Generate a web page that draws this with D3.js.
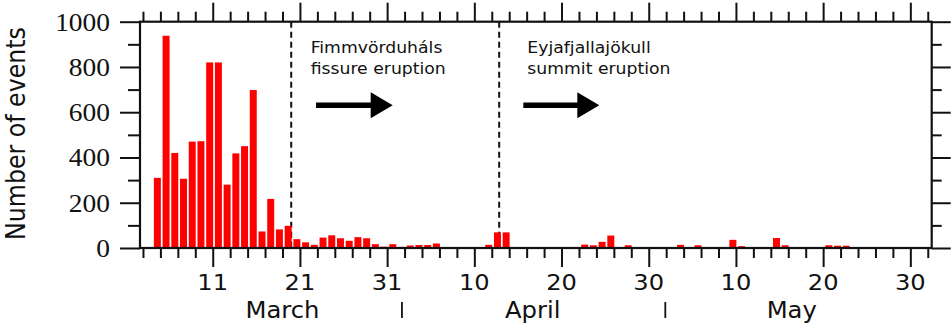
<!DOCTYPE html>
<html>
<head>
<meta charset="utf-8">
<script src="https://cdn.jsdelivr.net/npm/d3@7"></script>
<style>
  body { margin: 0; background: #fff; }
  svg { display: block; }
</style>
</head>
<body>
<svg id="chart" width="951" height="324"></svg>
<script>
// Daily number of located earthquakes, March–May 2010.
// Days are counted from 1 March 2010 (day 0); the first count is for day 3.
const firstDay = 3;
const dailyCounts = [
  310, 938, 420, 306, 470, 472, 820, 820, 280, 418, 450, 698, 73, 217, 82, 98,
  39, 25, 14, 46, 56, 43, 32, 48, 43, 17, 6, 17, 5, 11, 13, 13, 20, 3, 3, 2, 0, 1, 14, 69, 69,
  0, 0, 0, 0, 0, 0, 0, 1, 15, 12, 27, 55, 3, 12, 2, 0, 1, 2, 3, 14, 3, 12, 3, 2, 2,
  36, 8, 2, 1, 2, 44, 12, 3, 2, 2, 2, 12, 10, 10, 3, 2, 2, 2, 2, 2, 2
];

// Eruption onsets (days after 1 March) and their captions
const eruptionDays = [19.0, 42.85];
const eruptionNames = [
  ["Fimmvörduháls", "fissure eruption"],
  ["Eyjafjallajökull", "summit eruption"]
];

// Axis ticks
const dayMajorTicks = [10, 20, 30, 40, 50, 60, 70, 80, 90];
const dayMinorTicks = d3.range(2, 93, 2).filter(d => d % 10 !== 0);
const countMajorTicks = [0, 200, 400, 600, 800, 1000];
const countMinorTicks = [100, 300, 500, 700, 900];

// Month captions under the day labels, and the marks between them
const monthNames = ["March", "April", "May"];
const monthCentreDays = [18.0, 46.7, 76.4];
const monthBreakDays = [31.7, 61.9];

// ---- layout ----
const svg = d3.select("#chart");
const frame = { left: 140, right: 931.7, top: 21.7, bottom: 248 };
const SX = 1.15;               // horizontal stretch applied to all lettering
const sans = "'DejaVu Sans', sans-serif";
const serif = "'Liberation Serif', 'Times New Roman', serif";
const ink = "#111";

const x = d3.scaleLinear().domain([1.66, 92.45]).range([frame.left, frame.right]);
const y = d3.scaleLinear().domain([0, 1000]).range([frame.bottom, frame.top]);

const dayToDate = d => new Date(2010, 2, 1 + d);

// eruption onset lines (behind the bars)
svg.append("g").selectAll("line").data(eruptionDays).join("line")
  .attr("x1", d => x(d)).attr("x2", d => x(d))
  .attr("y1", y(1000)).attr("y2", y(0))
  .attr("stroke", ink).attr("stroke-width", 2)
  .attr("stroke-dasharray", "6,4");

// bars: one per day
const bars = dailyCounts.map((v, i) => ({ day: firstDay + i, value: v }));
svg.append("g").selectAll("rect").data(bars).join("rect")
  .attr("x", d => x(d.day + 0.25))
  .attr("width", d => x(d.day + 1.05) - x(d.day + 0.25))
  .attr("y", d => y(d.value))
  .attr("height", d => y(0) - y(d.value))
  .attr("fill", "#ff0000");

// ticks on all four sides
function tickStyle(g) {
  g.select(".domain").remove();
  g.selectAll(".tick line").attr("stroke", ink).attr("stroke-width", 2);
  g.selectAll(".tick text").remove();
}
const axes = [
  [d3.axisBottom(x).tickValues(dayMinorTicks).tickSize(10), `translate(0,${frame.bottom})`],
  [d3.axisBottom(x).tickValues(dayMajorTicks).tickSize(19), `translate(0,${frame.bottom})`],
  [d3.axisTop(x).tickValues(dayMinorTicks).tickSize(10), `translate(0,${frame.top})`],
  [d3.axisTop(x).tickValues(dayMajorTicks).tickSize(19), `translate(0,${frame.top})`],
  [d3.axisLeft(y).tickValues(countMinorTicks).tickSize(12), `translate(${frame.left},0)`],
  [d3.axisLeft(y).tickValues(countMajorTicks).tickSize(20), `translate(${frame.left},0)`],
  [d3.axisRight(y).tickValues(countMinorTicks).tickSize(10), `translate(${frame.right},0)`],
  [d3.axisRight(y).tickValues(countMajorTicks).tickSize(19), `translate(${frame.right},0)`]
];
axes.forEach(([axis, tr]) => svg.append("g").attr("transform", tr).call(axis).call(tickStyle));

// plot frame
svg.append("rect")
  .attr("x", frame.left).attr("y", frame.top)
  .attr("width", frame.right - frame.left).attr("height", frame.bottom - frame.top)
  .attr("fill", "none").attr("stroke", ink).attr("stroke-width", 2.2);

// count labels
svg.append("g").selectAll("text").data(countMajorTicks).join("text")
  .attr("transform", d => `translate(110,${y(d) + 9}) scale(${SX - 0.03},1)`)
  .attr("text-anchor", "end")
  .style("font-family", serif).style("font-size", "24.5px").attr("fill", ink)
  .text(d => d);

// day-of-month labels
svg.append("g").selectAll("text").data(dayMajorTicks).join("text")
  .attr("transform", d => `translate(${x(d)},290) scale(${SX},1)`)
  .attr("text-anchor", "middle")
  .style("font-family", sans).style("font-size", "21px").attr("fill", ink)
  .text(d => dayToDate(d).getDate());

// month names
svg.append("g").selectAll("text").data(monthNames).join("text")
  .attr("transform", (d, i) => `translate(${x(monthCentreDays[i])},318) scale(${SX - 0.07},1)`)
  .attr("text-anchor", "middle")
  .style("font-family", sans).style("font-size", "22.5px").attr("fill", ink)
  .text(d => d);
svg.append("g").selectAll("line").data(monthBreakDays).join("line")
  .attr("x1", d => x(d)).attr("x2", d => x(d))
  .attr("y1", 302).attr("y2", 318)
  .attr("stroke", ink).attr("stroke-width", 1.8);

// y-axis title
svg.append("text")
  .attr("transform", `translate(25,133.5) scale(${SX},1) rotate(-90)`)
  .attr("text-anchor", "middle")
  .style("font-family", sans).style("font-size", "23.7px").attr("fill", ink)
  .text("Number of events");

// eruption captions with arrows pointing forward in time
const captionLayout = [
  { text: 21.23, from: 21.85, to: 30.64 },
  { text: 46.08, from: 45.62, to: 54.33 }
];
eruptionNames.forEach((lines, i) => {
  const c = captionLayout[i];
  lines.forEach((ln, j) => {
    svg.append("text")
      .attr("transform", `translate(${x(c.text)},${52.7 + j * 21.6}) scale(${SX},1)`)
      .style("font-family", sans).style("font-size", "15px").attr("fill", ink)
      .text(ln);
  });
  const x0 = x(c.from), x1 = x(c.to), ay = 105.3, head = 22;
  svg.append("line")
    .attr("x1", x0).attr("x2", x1 - head + 2)
    .attr("y1", ay).attr("y2", ay)
    .attr("stroke", "#000").attr("stroke-width", 5.5);
  svg.append("path")
    .attr("d", `M${x1},${ay} L${x1 - head},${ay - 13} L${x1 - head},${ay + 13} Z`)
    .attr("fill", "#000");
});
</script>
</body>
</html>
